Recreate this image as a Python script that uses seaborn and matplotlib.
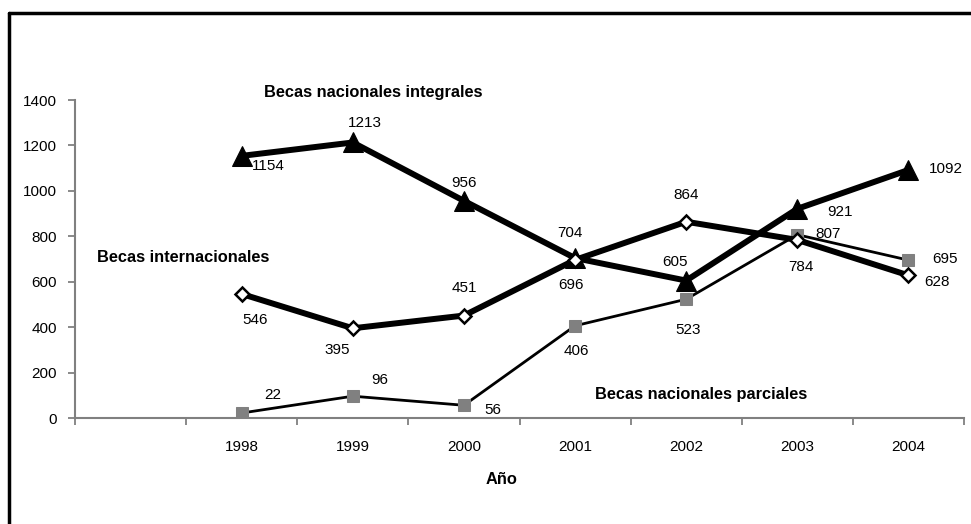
import matplotlib
matplotlib.use("Agg")
import matplotlib.pyplot as plt
from matplotlib import font_manager
from matplotlib.lines import Line2D
from matplotlib.ticker import FixedLocator, NullFormatter
import seaborn as sns
import pandas as pd

years = [1998, 1999, 2000, 2001, 2002, 2003, 2004]
integrales = [1154, 1213, 956, 704, 605, 921, 1092]
internacionales = [546, 395, 451, 696, 864, 784, 628]
parciales = [22, 96, 56, 406, 523, 807, 695]
y_ticks = [0, 200, 400, 600, 800, 1000, 1200, 1400]

# label offsets in pixels (dx, dy) relative to each point
off_integrales = [(27, -10), (12, 19), (0, 18), (-5, 25), (-11, 19), (43, -3), (37, 1)]
off_internacionales = [(13, -26), (-16, -22), (0, 28), (-4, -25), (0, 27), (4, -27), (29, -7)]
off_parciales = [(31, 18), (27, 16), (29, -5), (1, -25), (2, -31), (31, 1), (37, 1)]

sns.set_theme(style="white")
names = {f.name for f in font_manager.fontManager.ttflist}
if "Liberation Sans Narrow" in names:
    fam = ["Liberation Sans Narrow", "DejaVu Sans"]
    fs_tick, fs_lab = 11.5, 13
else:
    fam = ["Liberation Sans", "DejaVu Sans"]
    fs_tick, fs_lab = 11, 11.8
plt.rcParams["font.family"] = fam
plt.rcParams["text.color"] = "black"
plt.rcParams["xtick.labelcolor"] = "black"
plt.rcParams["ytick.labelcolor"] = "black"

df = pd.DataFrame({
    "Año": years * 3,
    "valor": parciales + integrales + internacionales,
    "serie": ["parciales"] * 7 + ["integrales"] * 7 + ["internacionales"] * 7,
})

fig = plt.figure(figsize=(9.71, 5.24), dpi=100)
ax = fig.add_axes([75 / 971, 1 - 418 / 524, (964 - 75) / 971, (418 - 100) / 524])

sns.lineplot(data=df[df.serie == "parciales"], x="Año", y="valor", ax=ax,
             color="black", linewidth=2.0, marker="s", markersize=9,
             markerfacecolor="#808080", markeredgecolor="#808080", zorder=3)
sns.lineplot(data=df[df.serie == "integrales"], x="Año", y="valor", ax=ax,
             color="black", linewidth=4.3, marker="^", markersize=14,
             markerfacecolor="black", markeredgecolor="black", zorder=4)
sns.lineplot(data=df[df.serie == "internacionales"], x="Año", y="valor", ax=ax,
             color="black", linewidth=4.3, marker="D", markersize=7,
             markerfacecolor="white", markeredgecolor="black",
             markeredgewidth=1.8, zorder=5)

for vals, offs in ((integrales, off_integrales), (internacionales, off_internacionales),
                   (parciales, off_parciales)):
    for x, v, (dx, dy) in zip(years, vals, offs):
        ax.annotate(str(v), (x, v), xytext=(dx, dy), textcoords="offset pixels",
                    ha="center", va="center", fontsize=fs_tick, color="black", zorder=6)

ax.set_xlim(1996.5, 2004.5)
ax.set_ylim(0, 1400)
ax.set_yticks(y_ticks)
ax.set_yticklabels([str(t) for t in y_ticks])
ax.xaxis.set_major_locator(FixedLocator([1996.5 + i for i in range(9)]))
ax.xaxis.set_major_formatter(NullFormatter())
ax.xaxis.set_minor_locator(FixedLocator(years))
ax.set_xticklabels([str(y) for y in years], minor=True)
ax.tick_params(axis="x", which="major", direction="out", length=5, width=1.3,
               color="#808080", bottom=True)
ax.tick_params(axis="x", which="minor", length=0, pad=16, labelsize=fs_tick,
               labelcolor="black", bottom=True)
ax.tick_params(axis="y", which="major", direction="out", length=5, width=1.3,
               color="#808080", left=True, pad=8, labelsize=fs_tick, labelcolor="black")

for s in ("top", "right"):
    ax.spines[s].set_visible(False)
for s in ("left", "bottom"):
    ax.spines[s].set_color("#808080")
    ax.spines[s].set_linewidth(1.5)
ax.set_xlabel("")
ax.set_ylabel("")
ax.grid(False)
ax.set_facecolor("none")

# series titles and axis title
fig.text(373 / 971, 1 - 92 / 524, "Becas nacionales integrales", ha="center", va="center",
         fontsize=fs_lab, fontweight="bold", color="black")
fig.text(97 / 971, 1 - 258 / 524, "Becas internacionales", ha="left", va="center",
         fontsize=fs_lab, fontweight="bold", color="black")
fig.text(701 / 971, 1 - 395 / 524, "Becas nacionales parciales", ha="center", va="center",
         fontsize=fs_lab, fontweight="bold", color="black")
fig.text(502 / 971, 1 - 480 / 524, "Año", ha="center", va="center",
         fontsize=fs_lab, fontweight="bold", color="black")

# outer frame (left and top edges visible)
fig.add_artist(Line2D([9 / 971, 9 / 971], [0, 1 - 13 / 524], transform=fig.transFigure,
                      color="black", linewidth=2.5))
fig.add_artist(Line2D([9 / 971, 1], [1 - 13 / 524, 1 - 13 / 524], transform=fig.transFigure,
                      color="black", linewidth=2.5))

fig.savefig("out.png", dpi=100, facecolor="white")
